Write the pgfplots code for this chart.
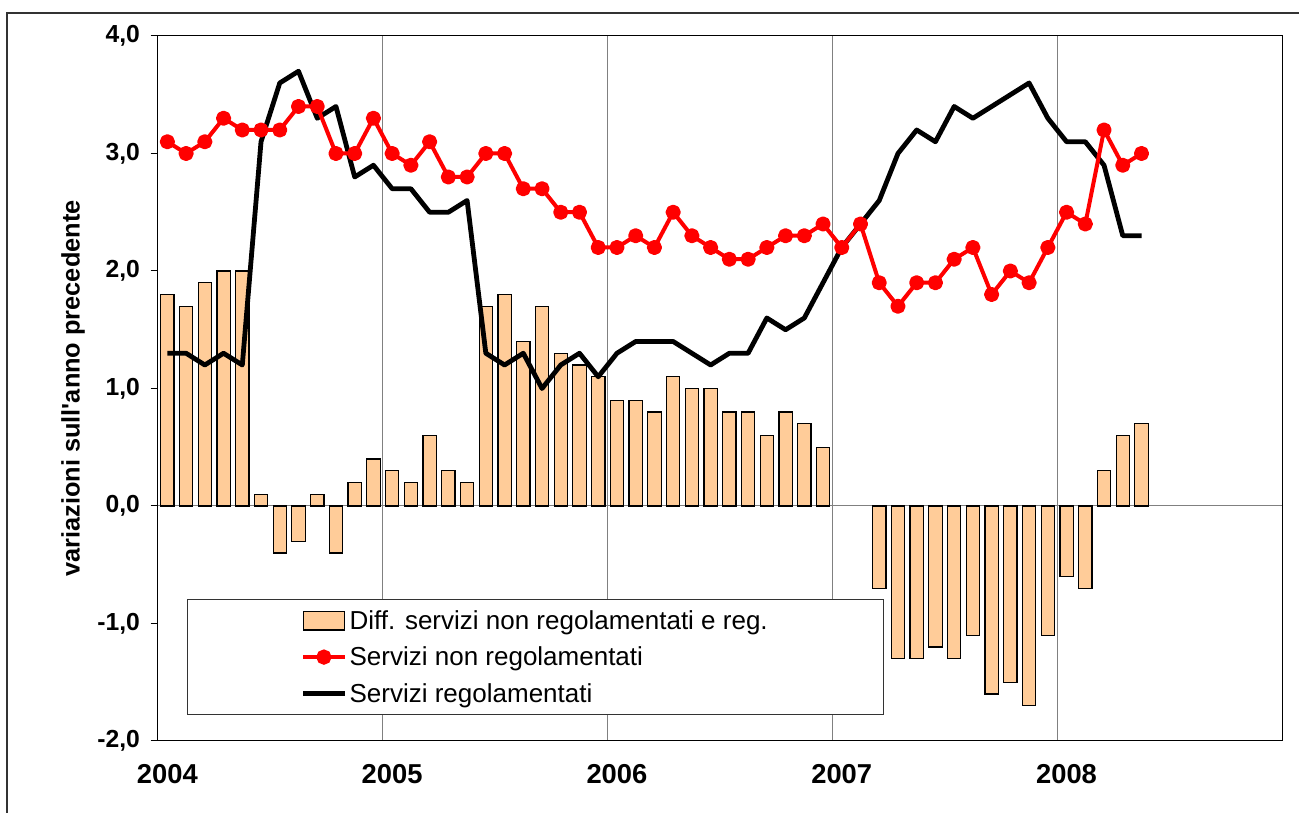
\documentclass[border=0pt]{standalone}
\usepackage{fontspec}
\setmainfont{Liberation Sans}[Ligatures=TeXOff]
\usepackage{pgfplots}
\pgfplotsset{compat=1.18}
\usepackage{pgfplotstable}
\definecolor{barc}{HTML}{FFCC99}
\definecolor{gridc}{HTML}{808080}

\pgfplotstableread{
x y
0.5 1.8
1.5 1.7
2.5 1.9
3.5 2.0
4.5 2.0
5.5 0.1
6.5 -0.4
7.5 -0.3
8.5 0.1
9.5 -0.4
10.5 0.2
11.5 0.4
12.5 0.3
13.5 0.2
14.5 0.6
15.5 0.3
16.5 0.2
17.5 1.7
18.5 1.8
19.5 1.4
20.5 1.7
21.5 1.3
22.5 1.2
23.5 1.1
24.5 0.9
25.5 0.9
26.5 0.8
27.5 1.1
28.5 1.0
29.5 1.0
30.5 0.8
31.5 0.8
32.5 0.6
33.5 0.8
34.5 0.7
35.5 0.5
38.5 -0.7
39.5 -1.3
40.5 -1.3
41.5 -1.2
42.5 -1.3
43.5 -1.1
44.5 -1.6
45.5 -1.5
46.5 -1.7
47.5 -1.1
48.5 -0.6
49.5 -0.7
50.5 0.3
51.5 0.6
52.5 0.7
}\bars

\pgfplotstableread{
x y
0.5 3.1
1.5 3.0
2.5 3.1
3.5 3.3
4.5 3.2
5.5 3.2
6.5 3.2
7.5 3.4
8.5 3.4
9.5 3.0
10.5 3.0
11.5 3.3
12.5 3.0
13.5 2.9
14.5 3.1
15.5 2.8
16.5 2.8
17.5 3.0
18.5 3.0
19.5 2.7
20.5 2.7
21.5 2.5
22.5 2.5
23.5 2.2
24.5 2.2
25.5 2.3
26.5 2.2
27.5 2.5
28.5 2.3
29.5 2.2
30.5 2.1
31.5 2.1
32.5 2.2
33.5 2.3
34.5 2.3
35.5 2.4
36.5 2.2
37.5 2.4
38.5 1.9
39.5 1.7
40.5 1.9
41.5 1.9
42.5 2.1
43.5 2.2
44.5 1.8
45.5 2.0
46.5 1.9
47.5 2.2
48.5 2.5
49.5 2.4
50.5 3.2
51.5 2.9
52.5 3.0
}\nonreg

\pgfplotstableread{
x y
0.5 1.3
1.5 1.3
2.5 1.2
3.5 1.3
4.5 1.2
5.5 3.1
6.5 3.6
7.5 3.7
8.5 3.3
9.5 3.4
10.5 2.8
11.5 2.9
12.5 2.7
13.5 2.7
14.5 2.5
15.5 2.5
16.5 2.6
17.5 1.3
18.5 1.2
19.5 1.3
20.5 1.0
21.5 1.2
22.5 1.3
23.5 1.1
24.5 1.3
25.5 1.4
26.5 1.4
27.5 1.4
28.5 1.3
29.5 1.2
30.5 1.3
31.5 1.3
32.5 1.6
33.5 1.5
34.5 1.6
35.5 1.9
36.5 2.2
37.5 2.4
38.5 2.6
39.5 3.0
40.5 3.2
41.5 3.1
42.5 3.4
43.5 3.3
44.5 3.4
45.5 3.5
46.5 3.6
47.5 3.3
48.5 3.1
49.5 3.1
50.5 2.9
51.5 2.3
52.5 2.3
}\reg

\pgfplotsset{
  lineleg/.style={legend image code/.code={\draw[mark repeat=2,mark phase=2,##1] plot coordinates {(0pt,0pt) (15.5pt,0pt) (31pt,0pt)};}},
  barleg/.style={legend image code/.code={\draw[##1] (0pt,-7pt) rectangle (31pt,7pt);}}
}

\begin{document}
\begin{tikzpicture}
\useasboundingbox (0pt,0pt) rectangle (974.25pt,609.75pt);
\draw[line width=1.5pt, black!80] (5.25pt,0pt) -- (5.25pt,600pt) -- (974.25pt,600pt);
\begin{axis}[
  at={(118.5pt,54pt)}, anchor=south west,
  scale only axis, width=843pt, height=528.75pt,
  xmin=0, xmax=60, ymin=-2, ymax=4,
  axis line style={black, line width=0.75pt},
  xtick={0,12,24,36,48}, xticklabels={2004,2005,2006,2007,2008},
  xmajorgrids, grid style={gridc, line width=0.75pt},
  xtick style={draw=none},
  ytick={-2,-1,0,1,2,3,4}, ytick pos=left,
  tick align=outside, major tick length=5.5pt,
  ytick style={black, line width=0.75pt},
  /pgf/number format/assume math mode=true,
  yticklabel style={font=\bfseries\fontsize{18.5}{18.5}\selectfont, xshift=-4.5pt, /pgf/number format/fixed, /pgf/number format/fixed zerofill, /pgf/number format/precision=1, /pgf/number format/use comma},
  xticklabel style={font=\bfseries\fontsize{20.5}{20.5}\selectfont, anchor=center, yshift=-19.5pt, xshift=7pt},
  ylabel={variazioni sull'anno precedente},
  every axis y label/.style={at={(axis description cs:-0.0756,0.5)}, rotate=90, anchor=center, font=\bfseries\fontsize{19}{19}\selectfont},
  legend cell align=left,
  legend style={at={(axis description cs:0.0258,0.2014)}, anchor=north west, draw=black!80, line width=0.75pt, font=\fontsize{19.5}{23}\selectfont, inner xsep=85pt, inner ysep=6pt, row sep=7.75pt},
]
\draw[gridc, line width=0.75pt] (axis cs:0,0) -- (axis cs:60,0);
\addplot[ybar, bar width=10pt, bar shift=0pt, fill=barc, draw=black, line width=0.9pt, barleg] table[x=x,y=y] {\bars};
\addlegendentry{Diff. servizi non regolamentati e reg.}
\addlegendimage{red, line width=3pt, mark=*, mark size=4.2pt, lineleg}
\addlegendentry{Servizi non regolamentati}
\addlegendimage{black, line width=3.6pt, lineleg}
\addlegendentry{Servizi regolamentati}
\addplot[black, line width=3.6pt, line join=round, forget plot] table[x=x,y=y] {\reg};
\addplot[red, line width=3pt, line join=round, mark=*, mark size=4.2pt, forget plot] table[x=x,y=y] {\nonreg};
\end{axis}
\end{tikzpicture}
\end{document}
